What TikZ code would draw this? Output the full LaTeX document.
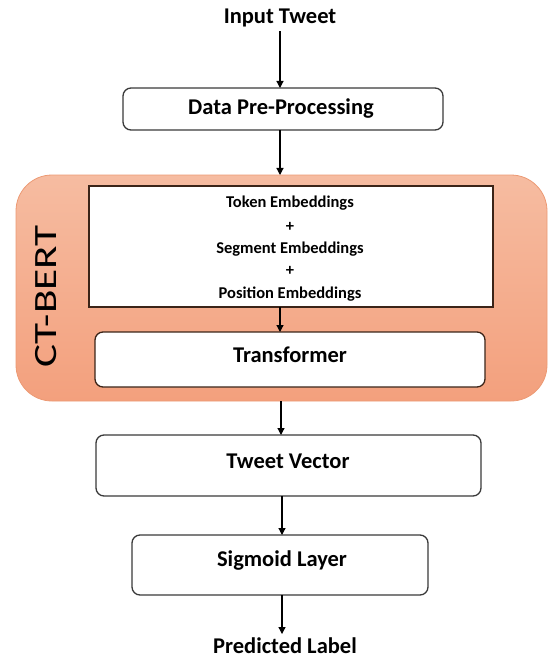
\documentclass[tikz,border=0pt]{standalone}
\usepackage{fontspec}
\setmainfont{Carlito}
\usetikzlibrary{arrows.meta}
\definecolor{orLight}{HTML}{F6BCA1}
\definecolor{orDark}{HTML}{F3A07D}
\definecolor{orEdge}{HTML}{EC9A74}
\definecolor{boxEdge}{HTML}{3A3A3A}
\definecolor{brownEdge}{HTML}{3B2418}
\tikzset{
  flowbox/.style={draw=boxEdge, line width=1.3pt, fill=white, rounded corners=8pt,
    inner sep=0pt, outer sep=0pt},
  plainlabel/.style={inner sep=0pt, outer sep=0pt, font=\fontsize{22.5}{26}\selectfont\bfseries},
  emblabel/.style={inner sep=0pt, font=\fontsize{16.5}{20}\selectfont\bfseries},
  flowarrow/.style={draw=black, line width=1.2pt, -{Triangle[length=7pt,width=7pt]}},
}
\begin{document}
\begin{tikzpicture}[x=1pt,y=-1pt]
\useasboundingbox (0,0) rectangle (548,663);
% CT-BERT container
\node[draw=orEdge, line width=0.8pt, rounded corners=36pt, top color=orLight, bottom color=orDark,
      minimum width=531pt, minimum height=226pt,
      inner sep=0pt, outer sep=0pt] (ctbert) at (281.5,288) {};
\node[rotate=90, inner sep=0pt, font=\fontsize{32.5}{36}\selectfont] (ctlabel) at (46.5,296.5)
  {\scalebox{1.33}[1]{CT-BERT}};
% embeddings
\node[draw=brownEdge, line width=1.3pt, fill=white, inner sep=0pt, outer sep=0pt,
      minimum width=404pt, minimum height=121pt] (emb) at (291,246.5) {};
\node[emblabel] (e1) at (290,203) {Token Embeddings};
\node[emblabel] (p1) at (290,227) {+};
\node[emblabel] (e2) at (290,249) {Segment Embeddings};
\node[emblabel] (p2) at (290,271) {+};
\node[emblabel] (e3) at (290,294) {Position Embeddings};
% boxes
\node[flowbox, draw=brownEdge, minimum width=390pt, minimum height=55pt] (trans) at (290,359.5) {};
\node[plainlabel] (transt) at (290,355) {Transformer};
\node[plainlabel] (input) at (280,18) {Input Tweet};
\node[flowbox, minimum width=320pt, minimum height=42pt] (data) at (283,109) {};
\node[plainlabel] (datat) at (281,109) {Data Pre-Processing};
\node[flowbox, minimum width=385pt, minimum height=61pt] (tweet) at (288.5,465.5) {};
\node[plainlabel] (tweett) at (288,461) {Tweet Vector};
\node[flowbox, minimum width=296pt, minimum height=60pt] (sig) at (280,565) {};
\node[plainlabel] (sigt) at (282,561) {Sigmoid Layer};
\node[plainlabel] (pred) at (285,646) {Predicted Label};
% arrows
\draw[flowarrow, shorten <=4pt] (input.south -| 280,0) -- (data.north -| 280,0);
\draw[flowarrow] (data.south -| 280,0) -- (ctbert.north -| 280,0);
\draw[flowarrow] (emb.south -| 280,0) -- (trans.north -| 280,0);
\draw[flowarrow] (ctbert.south -| 281,0) -- (tweet.north -| 281,0);
\draw[flowarrow] (tweet.south -| 282,0) -- (sig.north -| 282,0);
\draw[flowarrow, shorten >=4pt] (sig.south -| 282,0) -- (pred.north -| 282,0);
\end{tikzpicture}
\end{document}
